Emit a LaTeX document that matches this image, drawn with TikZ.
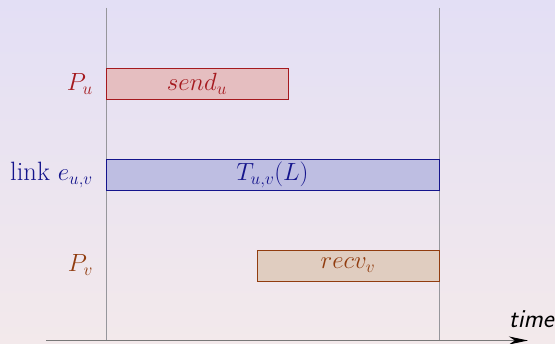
\documentclass[tikz,border=0pt]{standalone}
\usetikzlibrary{arrows.meta}
\definecolor{bgtop}{RGB}{227,223,245}
\definecolor{bgbot}{RGB}{243,233,235}
\definecolor{ured}{RGB}{165,25,30}
\definecolor{ublue}{RGB}{20,20,140}
\definecolor{ubrown}{RGB}{145,60,15}
\definecolor{fred}{RGB}{229,190,192}
\definecolor{fblue}{RGB}{190,190,226}
\definecolor{fbrown}{RGB}{224,205,192}
\definecolor{vline}{RGB}{150,150,155}
\definecolor{axisc}{RGB}{120,120,120}
\begin{document}
\begin{tikzpicture}[x=1pt,y=-1pt,
  bigfont/.style={font=\fontsize{26.5}{31}\selectfont},
  bar/.style={draw, line width=0.9pt, anchor=north west, inner sep=0pt, outer sep=0pt, minimum height=31pt, bigfont},
  lbl/.style={anchor=east, inner sep=0pt, bigfont},
  guide/.style={draw=vline, line width=0.8pt},
  axisline/.style={draw=axisc, line width=1.3pt}]
\shade[top color=bgtop, bottom color=bgbot] (0,0) rectangle (555,344);
\useasboundingbox (0,0) rectangle (555,344);
% guides
\coordinate (g1t) at (106,8);
\coordinate (g1b) at (106,340);
\coordinate (g2t) at (439,8);
\coordinate (g2b) at (439,340);
\draw[guide] (g1t) -- (g1b);
\draw[guide] (g2t) -- (g2b);
% bars
\node[bar, draw=ured, fill=fred, text=ured, minimum width=182pt] (send) at (106,68) {$send_u$};
\node[bar, draw=ublue, fill=fblue, text=ublue, minimum width=333pt] (link) at (106,159) {$T_{u,v}(L)$};
\node[bar, draw=ubrown, fill=fbrown, text=ubrown, minimum width=182pt] (recv) at (257,250) {$recv_v$};
% labels
\node[lbl, text=ured] (pu) at (93,84) {$P_u$};
\node[lbl, text=ublue] (le) at (93,175) {link $e_{u,v}$};
\node[lbl, text=ubrown] (pv) at (93,265) {$P_v$};
% axis
\coordinate (a0) at (46,340.5);
\coordinate (a1) at (528,340.5);
\draw[axisline, -{Stealth[black, length=19pt, width=8pt, inset=6pt]}] (a0) -- (a1);
\node[anchor=base east, inner sep=0pt, font=\fontsize{26}{30}\selectfont\sffamily\itshape] (time) at (554,328) {time};
\end{tikzpicture}
\end{document}
